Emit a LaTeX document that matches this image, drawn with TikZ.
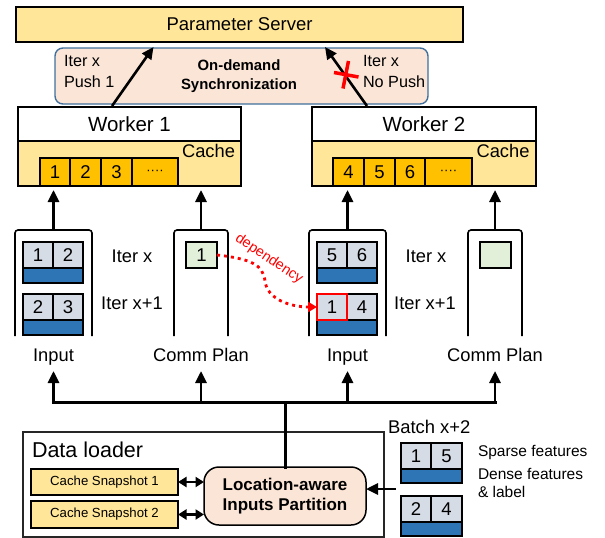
\documentclass[tikz,border=0pt]{standalone}
\usepackage{fontspec}
\setmainfont{Liberation Sans}
\usetikzlibrary{arrows.meta,calc}

\definecolor{ylw}{HTML}{FFE699}
\definecolor{gold}{HTML}{FFC000}
\definecolor{peach}{HTML}{FBE5D6}
\definecolor{syncblue}{HTML}{41719C}
\definecolor{cellgray}{HTML}{D6DCE5}
\definecolor{barblue}{HTML}{2E75B6}
\definecolor{planfill}{HTML}{E2F0D9}
\definecolor{depred}{HTML}{FF0000}

\newcommand\fsize[1]{\fontsize{#1}{#1}\selectfont}

\begin{document}
\begin{tikzpicture}[x=1pt, y=-1pt,
  box/.style={draw=black, line width=1.8pt, inner sep=0pt, outer sep=0pt, anchor=north west},
  cachecell/.style={box, fill=gold, minimum height=28pt, font=\fsize{18.5}},
  cell/.style={box, fill=cellgray, minimum width=30pt, minimum height=26pt, font=\fsize{18.5}},
  bar/.style={box, fill=barblue, minimum width=60pt, minimum height=15pt},
  txt/.style={inner sep=0pt, outer sep=0pt, anchor=base},
  lbl/.style={txt, font=\fsize{18.3}, text depth=4pt},
  holder/.style={inner sep=0pt, outer sep=0pt, anchor=north west, minimum height=106pt},
  cont/.style={draw=black, line width=1.6pt, rounded corners=3pt},
  arr/.style={-{Triangle[length=12pt,width=11pt]}, line width=2.8pt},
  sarr/.style={-{Triangle[length=12pt,width=11pt]}, line width=2.6pt},
  dbl/.style={{Triangle[length=8.5pt,width=10pt]}-{Triangle[length=8.5pt,width=10pt]}, line width=2.6pt},
  busline/.style={line width=3pt, line cap=rect},
  dep/.style={draw=depred, line width=2.8pt, dash pattern=on 3pt off 4pt,
    -{Triangle[length=9pt,width=10pt]}},
  xred/.style={draw=depred, line width=3.5pt}
]
\useasboundingbox (0,0) rectangle (605,538);

% ---------- parameter server and synchronization ----------
\node[box, fill=ylw, minimum width=447pt, minimum height=35pt, font=\fsize{18.5}] (ps) at (16,7) {Parameter Server};

\node[box, draw=syncblue, line width=1.4pt, fill=peach, rounded corners=8pt,
      minimum width=373pt, minimum height=56pt] (sync) at (55,48) {};
\node[txt, font=\bfseries\fsize{14.9}] (sync1) at (239,70) {On-demand};
\node[txt, font=\bfseries\fsize{14.9}] (sync2) at (239,89.5) {Synchronization};
\node[txt, anchor=base west, font=\fsize{16.2}] (lx) at (64,66) {Iter x};
\node[txt, anchor=base west, font=\fsize{16.2}] (lp) at (64,87) {Push 1};
\node[txt, anchor=base west, font=\fsize{16.2}] (rx) at (363,66) {Iter x};
\node[txt, anchor=base west, font=\fsize{16.2}] (rp) at (363,87) {No Push};

% ---------- workers ----------
\node[box, minimum width=223pt, minimum height=34pt, font=\fsize{20.5}] (w1) at (18,107) {Worker 1};
\node[box, fill=ylw, minimum width=223pt, minimum height=45pt] (c1) at (18,141) {};
\node[txt, anchor=base east, font=\fsize{18.3}] (c1l) at (235,157) {Cache};
\node[cachecell, minimum width=30pt] (c1a) at (40,158) {1};
\node[cachecell, minimum width=31pt] (c1b) at (70,158) {2};
\node[cachecell, minimum width=31pt] (c1c) at (101,158) {3};
\node[cachecell, minimum width=46pt, font=\fsize{13}] (c1d) at (132,158) {····};

\node[box, minimum width=224pt, minimum height=34pt, font=\fsize{20.5}] (w2) at (312,107) {Worker 2};
\node[box, fill=ylw, minimum width=224pt, minimum height=45pt] (c2) at (312,141) {};
\node[txt, anchor=base east, font=\fsize{18.3}] (c2l) at (529.5,157) {Cache};
\node[cachecell, minimum width=31pt] (c2a) at (333,158) {4};
\node[cachecell, minimum width=31pt] (c2b) at (364,158) {5};
\node[cachecell, minimum width=30pt] (c2c) at (395,158) {6};
\node[cachecell, minimum width=47pt, font=\fsize{13}] (c2d) at (425,158) {····};

% sync arrows and the cancelled push
\coordinate (a1s) at (112,106);
\coordinate (a1e) at (153.5,47);
\coordinate (a2s) at (367,106);
\coordinate (a2e) at (325,47);
\draw[sarr] (a1s) -- (a1e);
\draw[sarr] (a2s) -- (a2e);
\draw[xred] (334,72.5) -- (358.5,77);
\draw[xred] (348.5,61) -- (343,88.5);

% ---------- inputs and communication plans ----------
\node[holder, minimum width=77pt] (in1) at (15,230) {};
\draw[cont] (in1.south west) -- (in1.north west) -- (in1.north east) -- (in1.south east);
\node[cell] (i1a) at (23,242) {1};
\node[cell] (i1b) at (i1a.north east) {2};
\node[bar] (i1c) at (i1a.south west) {};
\node[cell] (i1d) at (23,294) {2};
\node[cell] (i1e) at (i1d.north east) {3};
\node[bar] (i1f) at (i1d.south west) {};

\node[holder, minimum width=54pt] (cp1) at (174,230) {};
\draw[cont] (cp1.south west) -- (cp1.north west) -- (cp1.north east) -- (cp1.south east);
\node[box, fill=planfill, minimum width=31pt, minimum height=26pt, font=\fsize{18.5}] (g1) at (186,242) {1};

\node[holder, minimum width=77pt] (in2) at (309,230) {};
\draw[cont] (in2.south west) -- (in2.north west) -- (in2.north east) -- (in2.south east);
\node[cell] (i2a) at (317,242) {5};
\node[cell] (i2b) at (i2a.north east) {6};
\node[bar] (i2c) at (i2a.south west) {};
\node[cell] (i2e) at (347,294) {4};
\node[bar] (i2f) at (317,320) {};
\node[cell, draw=depred] (rc) at (317,294) {1};

\node[holder, minimum width=54pt] (cp2) at (468,230) {};
\draw[cont] (cp2.south west) -- (cp2.north west) -- (cp2.north east) -- (cp2.south east);
\node[box, fill=planfill, minimum width=31pt, minimum height=26pt] (g2) at (480,242) {};

\node[txt, font=\fsize{18.3}] (ix1) at (132,262) {Iter x};
\node[txt, font=\fsize{18.3}] (ix1b) at (132,309) {Iter x+1};
\node[txt, font=\fsize{18.3}] (ix2) at (426,262) {Iter x};
\node[txt, font=\fsize{18.3}] (ix2b) at (425,309) {Iter x+1};

\node[lbl] (lin1) at (53.5,361) {Input};
\node[lbl] (lcp1) at (201,361) {Comm Plan};
\node[lbl] (lin2) at (347.5,361) {Input};
\node[lbl] (lcp2) at (495,361) {Comm Plan};

% feeding the caches
\draw[arr, shorten >=4pt] (in1.north) -- (in1.north |- c1.south);
\draw[arr, shorten >=4pt] (cp1.north) -- (cp1.north |- c1.south);
\draw[arr, shorten >=4pt] (in2.north) -- (in2.north |- c2.south);
\draw[arr, shorten >=4pt] (cp2.north) -- (cp2.north |- c2.south);

% dependency between plan and next input
\draw[dep] (g1.east) .. controls (252,259) and (263,265) .. (265,281)
           .. controls (267,299) and (290,307) .. (rc.west);
\node[inner sep=0pt, text=depred, rotate=-34, font=\fsize{14.3}] (dept) at (269,259) {dependency};

% ---------- distribution bus ----------
\coordinate (bus) at (285,402);
\draw[busline] (lin1.south |- bus) -- (lcp2.south |- bus);
\foreach \n in {lin1,lcp1,lin2,lcp2}
  \draw[arr, shorten >=6pt] (\n.south |- bus) -- (\n.south);

% ---------- data loader ----------
\node[box, draw=black!85, line width=1.5pt, minimum width=361pt, minimum height=105pt] (dl) at (23,432) {};
\node[txt, anchor=base west, font=\fsize{21.5}] (dlt) at (32,457) {Data loader};
\node[box, fill=ylw, minimum width=147pt, minimum height=26pt, font=\fsize{13.2}] (s1) at (31,469) {Cache Snapshot 1};
\node[box, fill=ylw, minimum width=147pt, minimum height=27pt, font=\fsize{13.2}] (s2) at (31,501) {Cache Snapshot 2};
\node[box, line width=1.5pt, fill=peach, rounded corners=15pt, minimum width=162pt, minimum height=58pt,
      align=center, font=\bfseries\fontsize{17}{20.6}\selectfont] (lap) at (204,467) {Location-aware\\Inputs Partition};

\draw[busline] (bus) -- (lap.north);
\draw[dbl] (s1.east) -- (s1.east -| lap.west);
\draw[dbl] (s2.east) -- (s2.east -| lap.west);

% ---------- incoming batch ----------
\node[txt, anchor=base west, font=\fsize{18.4}] (bt) at (388,433) {Batch x+2};
\node[cell] (b1a) at (401,443) {1};
\node[cell, minimum width=31pt] (b1b) at (b1a.north east) {5};
\node[bar, minimum width=61pt, minimum height=14pt] (b1c) at (b1a.south west) {};
\node[cell] (b2a) at (401,496) {2};
\node[cell, minimum width=31pt] (b2b) at (b2a.north east) {4};
\node[bar, minimum width=61pt, minimum height=14pt] (b2c) at (b2a.south west) {};

\node[txt, anchor=base west, font=\fsize{15.5}] (sf) at (478,456.7) {Sparse features};
\node[txt, anchor=base west, font=\fsize{15.5}] (df) at (478,479) {Dense features};
\node[txt, anchor=base west, font=\fsize{15.5}] (dfl) at (478,497) {\& label};

\coordinate (bin) at (396,489);
\draw[arr] (bin) -- (bin -| lap.east);

\end{tikzpicture}
\end{document}
